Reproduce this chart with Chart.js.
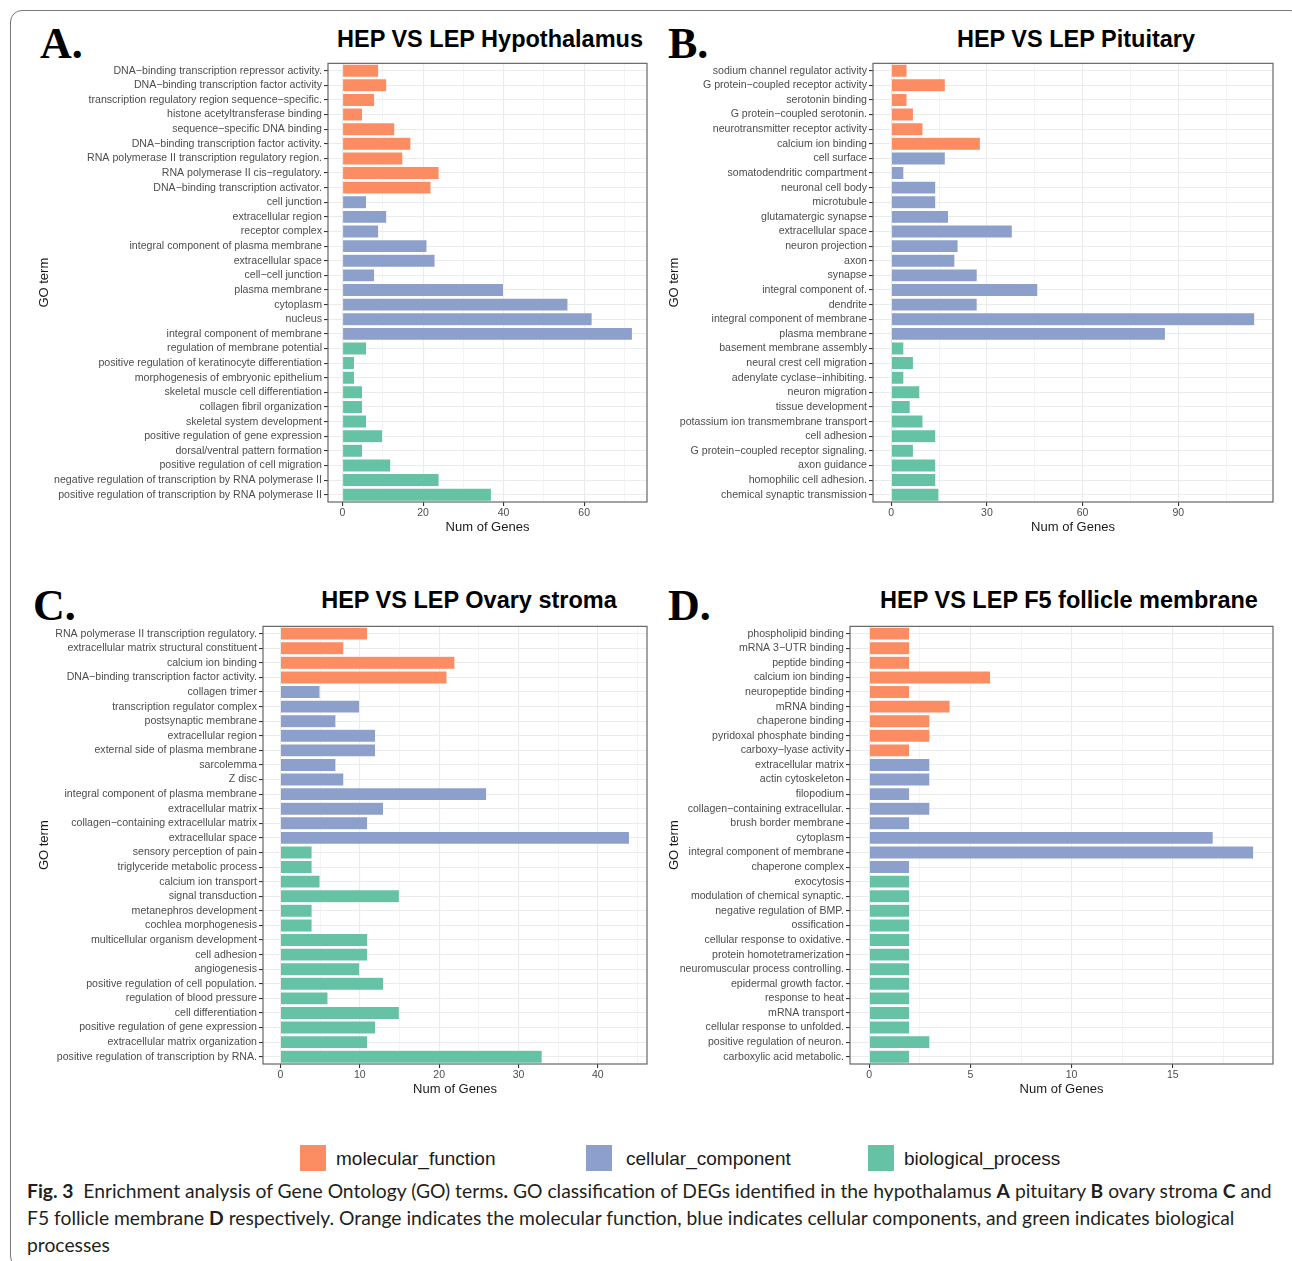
<!DOCTYPE html>
<html>
<head>
<meta charset="utf-8">
<script src="https://cdn.jsdelivr.net/npm/chart.js@4.4.1/dist/chart.umd.min.js"></script>
<style>
  body { margin: 0; background: #fff; width: 1292px; height: 1261px; position: relative; overflow: hidden;
         font-family: "Liberation Sans", Arial, sans-serif; }
  .frame { position: absolute; left: 10px; top: 10px; width: 1290px; height: 1256px; border: 1px solid #777; border-radius: 12px; }
  .box { position: absolute; }
  .letter { position: absolute; font-family: "Liberation Serif", serif; font-weight: bold; font-size: 44px; line-height: 1; }
  .ttl { position: absolute; font-weight: bold; font-size: 23.5px; line-height: 1; transform: translate(-50%, -50%); white-space: nowrap; color: #000; }
  .sw { position: absolute; width: 26px; height: 26px; }
  .lg { position: absolute; font-size: 19px; line-height: 1; transform: translateY(-50%); color: #1a1a1a; white-space: nowrap; }
  .cap { position: absolute; left: 27px; top: 1177px; font-family: Lato, "Open Sans", sans-serif; font-size: 19.3px;
         line-height: 27px; color: #231f20; white-space: nowrap; }
</style>
</head>
<body>
<div class="frame"></div>

<div class="letter" style="left:40px;top:22px">A.</div>
<div class="letter" style="left:668px;top:22px">B.</div>
<div class="letter" style="left:33px;top:584px">C.</div>
<div class="letter" style="left:668px;top:584px">D.</div>

<div class="ttl" style="left:490px;top:40px">HEP VS LEP Hypothalamus</div>
<div class="ttl" style="left:1076px;top:40px">HEP VS LEP Pituitary</div>
<div class="ttl" style="left:469px;top:601px">HEP VS LEP Ovary stroma</div>
<div class="ttl" style="left:1069px;top:601px">HEP VS LEP F5 follicle membrane</div>

<div class="box" style="left:30px;top:55px;width:627px;height:487px"><canvas id="chartA"></canvas></div>
<div class="box" style="left:660px;top:55px;width:623px;height:487px"><canvas id="chartB"></canvas></div>
<div class="box" style="left:30px;top:618px;width:627px;height:486px"><canvas id="chartC"></canvas></div>
<div class="box" style="left:660px;top:618px;width:623px;height:486px"><canvas id="chartD"></canvas></div>

<div class="sw" style="left:300px;top:1145px;background:#FC8D62"></div>
<div class="lg" style="left:336px;top:1158px">molecular_function</div>
<div class="sw" style="left:586px;top:1145px;background:#8DA0CB"></div>
<div class="lg" style="left:626px;top:1158px">cellular_component</div>
<div class="sw" style="left:868px;top:1145px;background:#66C2A5"></div>
<div class="lg" style="left:904px;top:1158px">biological_process</div>

<div class="cap"><b>Fig. 3</b>&nbsp; Enrichment analysis of Gene Ontology (GO) terms<b>.</b> GO classification of DEGs identified in the hypothalamus <b>A</b> pituitary <b>B</b> ovary stroma <b>C</b> and<br>F5 follicle membrane <b>D</b> respectively. Orange indicates the molecular function, blue indicates cellular components, and green indicates biological<br>processes</div>

<script>
// colours: molecular_function, cellular_component, biological_process
const groupColors = ['#FC8D62', '#8DA0CB', '#66C2A5'];

// A. Hypothalamus
const hypoTerms = [
  'DNA−binding transcription repressor activity.', 'DNA−binding transcription factor activity',
  'transcription regulatory region sequence−specific.', 'histone acetyltransferase binding',
  'sequence−specific DNA binding', 'DNA−binding transcription factor activity.',
  'RNA polymerase II transcription regulatory region.', 'RNA polymerase II cis−regulatory.',
  'DNA−binding transcription activator.', 'cell junction', 'extracellular region', 'receptor complex',
  'integral component of plasma membrane', 'extracellular space', 'cell−cell junction', 'plasma membrane',
  'cytoplasm', 'nucleus', 'integral component of membrane', 'regulation of membrane potential',
  'positive regulation of keratinocyte differentiation', 'morphogenesis of embryonic epithelium',
  'skeletal muscle cell differentiation', 'collagen fibril organization', 'skeletal system development',
  'positive regulation of gene expression', 'dorsal/ventral pattern formation',
  'positive regulation of cell migration', 'negative regulation of transcription by RNA polymerase II',
  'positive regulation of transcription by RNA polymerase II'
];
const hypoGenes = [9, 11, 8, 5, 13, 17, 15, 24, 22, 6, 11, 9, 21, 23, 8, 40, 56, 62, 72, 6, 3, 3, 5, 5, 6, 10, 5, 12, 24, 37];
const hypoGroups = [9, 10, 11];
const hypoTicks = [0, 20, 40, 60];
const hypoMinor = [10, 30, 50, 70];

// B. Pituitary
const pitTerms = [
  'sodium channel regulator activity', 'G protein−coupled receptor activity', 'serotonin binding',
  'G protein−coupled serotonin.', 'neurotransmitter receptor activity', 'calcium ion binding', 'cell surface',
  'somatodendritic compartment', 'neuronal cell body', 'microtubule', 'glutamatergic synapse',
  'extracellular space', 'neuron projection', 'axon', 'synapse', 'integral component of.', 'dendrite',
  'integral component of membrane', 'plasma membrane', 'basement membrane assembly',
  'neural crest cell migration', 'adenylate cyclase−inhibiting.', 'neuron migration', 'tissue development',
  'potassium ion transmembrane transport', 'cell adhesion', 'G protein−coupled receptor signaling.',
  'axon guidance', 'homophilic cell adhesion.', 'chemical synaptic transmission'
];
const pitGenes = [5, 17, 5, 7, 10, 28, 17, 4, 14, 14, 18, 38, 21, 20, 27, 46, 27, 114, 86, 4, 7, 4, 9, 6, 10, 14, 7, 14, 14, 15];
const pitGroups = [6, 13, 11];
const pitTicks = [0, 30, 60, 90];
const pitMinor = [15, 45, 75, 105];

// C. Ovary stroma
const ovaryTerms = [
  'RNA polymerase II transcription regulatory.', 'extracellular matrix structural constituent',
  'calcium ion binding', 'DNA−binding transcription factor activity.', 'collagen trimer',
  'transcription regulator complex', 'postsynaptic membrane', 'extracellular region',
  'external side of plasma membrane', 'sarcolemma', 'Z disc', 'integral component of plasma membrane',
  'extracellular matrix', 'collagen−containing extracellular matrix', 'extracellular space',
  'sensory perception of pain', 'triglyceride metabolic process', 'calcium ion transport',
  'signal transduction', 'metanephros development', 'cochlea morphogenesis',
  'multicellular organism development', 'cell adhesion', 'angiogenesis',
  'positive regulation of cell population.', 'regulation of blood pressure', 'cell differentiation',
  'positive regulation of gene expression', 'extracellular matrix organization',
  'positive regulation of transcription by RNA.'
];
const ovaryGenes = [11, 8, 22, 21, 5, 10, 7, 12, 12, 7, 8, 26, 13, 11, 44, 4, 4, 5, 15, 4, 4, 11, 11, 10, 13, 6, 15, 12, 11, 33];
const ovaryGroups = [4, 11, 15];
const ovaryTicks = [0, 10, 20, 30, 40];
const ovaryMinor = [5, 15, 25, 35, 45];

// D. F5 follicle membrane
const follTerms = [
  'phospholipid binding', 'mRNA 3−UTR binding', 'peptide binding', 'calcium ion binding',
  'neuropeptide binding', 'mRNA binding', 'chaperone binding', 'pyridoxal phosphate binding',
  'carboxy−lyase activity', 'extracellular matrix', 'actin cytoskeleton', 'filopodium',
  'collagen−containing extracellular.', 'brush border membrane', 'cytoplasm',
  'integral component of membrane', 'chaperone complex', 'exocytosis',
  'modulation of chemical synaptic.', 'negative regulation of BMP.', 'ossification',
  'cellular response to oxidative.', 'protein homotetramerization', 'neuromuscular process controlling.',
  'epidermal growth factor.', 'response to heat', 'mRNA transport', 'cellular response to unfolded.',
  'positive regulation of neuron.', 'carboxylic acid metabolic.'
];
const follGenes = [2, 2, 2, 6, 2, 4, 3, 3, 2, 3, 3, 2, 3, 2, 17, 19, 2, 2, 2, 2, 2, 2, 2, 2, 2, 2, 2, 2, 3, 2];
const follGroups = [9, 8, 13];
const follTicks = [0, 5, 10, 15];
const follMinor = [2.5, 7.5, 12.5, 17.5];

// grey frame round the plotting panel, like theme_bw
const panelBorder = {
  id: 'panelBorder',
  afterDraw(chart) {
    const { ctx, chartArea: a } = chart;
    ctx.save();
    ctx.strokeStyle = '#666';
    ctx.lineWidth = 1.2;
    ctx.strokeRect(a.left, a.top, a.right - a.left, a.bottom - a.top);
    ctx.restore();
  }
};

function makePanel(id, terms, genes, groups, majorTicks, minorTicks, yWidth) {
  const colors = [];
  groups.forEach((n, g) => { for (let i = 0; i < n; i++) colors.push(groupColors[g]); });
  const top = Math.max(...genes);
  const allTicks = majorTicks.concat(minorTicks);
  const isMajor = v => majorTicks.includes(v);

  return new Chart(document.getElementById(id), {
    type: 'bar',
    data: {
      labels: terms,
      datasets: [{
        data: genes,
        backgroundColor: colors,
        borderColor: '#ffffff',
        borderWidth: 0.6,
        barPercentage: 0.9,
        categoryPercentage: 1
      }]
    },
    options: {
      indexAxis: 'y',
      responsive: true,
      maintainAspectRatio: false,
      animation: false,
      layout: { padding: { top: 4, right: 10, left: 0, bottom: 0 } },
      plugins: { legend: { display: false }, tooltip: { enabled: false } },
      scales: {
        x: {
          min: -0.05 * top,
          max: 1.05 * top,
          afterBuildTicks: s => { s.ticks = allTicks.map(v => ({ value: v })); },
          afterFit: s => { s.height = 40; },
          ticks: {
            autoSkip: false,
            maxRotation: 0,
            padding: 1,
            color: '#4d4d4d',
            font: { size: 10.5 },
            callback: v => isMajor(v) ? v : ''
          },
          grid: {
            color: '#ebebeb',
            lineWidth: c => isMajor(c.tick.value) ? 1.1 : 0.6,
            tickColor: c => isMajor(c.tick.value) ? '#333' : 'rgba(0,0,0,0)',
            tickLength: 4
          },
          border: { display: false },
          title: { display: true, text: 'Num of Genes', color: '#1a1a1a', font: { size: 13 }, padding: { top: 0, bottom: 7 } }
        },
        y: {
          afterFit: s => { s.width = yWidth; },
          ticks: { autoSkip: false, padding: 2, color: '#4d4d4d', font: { size: 10.6 } },
          grid: { color: '#ebebeb', lineWidth: 1.1, offset: false, tickColor: '#333', tickLength: 4 },
          border: { display: false },
          title: { display: true, text: 'GO term', color: '#1a1a1a', font: { size: 13 }, padding: { top: 7, bottom: 0 } }
        }
      }
    },
    plugins: [panelBorder]
  });
}

makePanel('chartA', hypoTerms, hypoGenes, hypoGroups, hypoTicks, hypoMinor, 298);
makePanel('chartB', pitTerms, pitGenes, pitGroups, pitTicks, pitMinor, 213);
makePanel('chartC', ovaryTerms, ovaryGenes, ovaryGroups, ovaryTicks, ovaryMinor, 233);
makePanel('chartD', follTerms, follGenes, follGroups, follTicks, follMinor, 190);
</script>
</body>
</html>
